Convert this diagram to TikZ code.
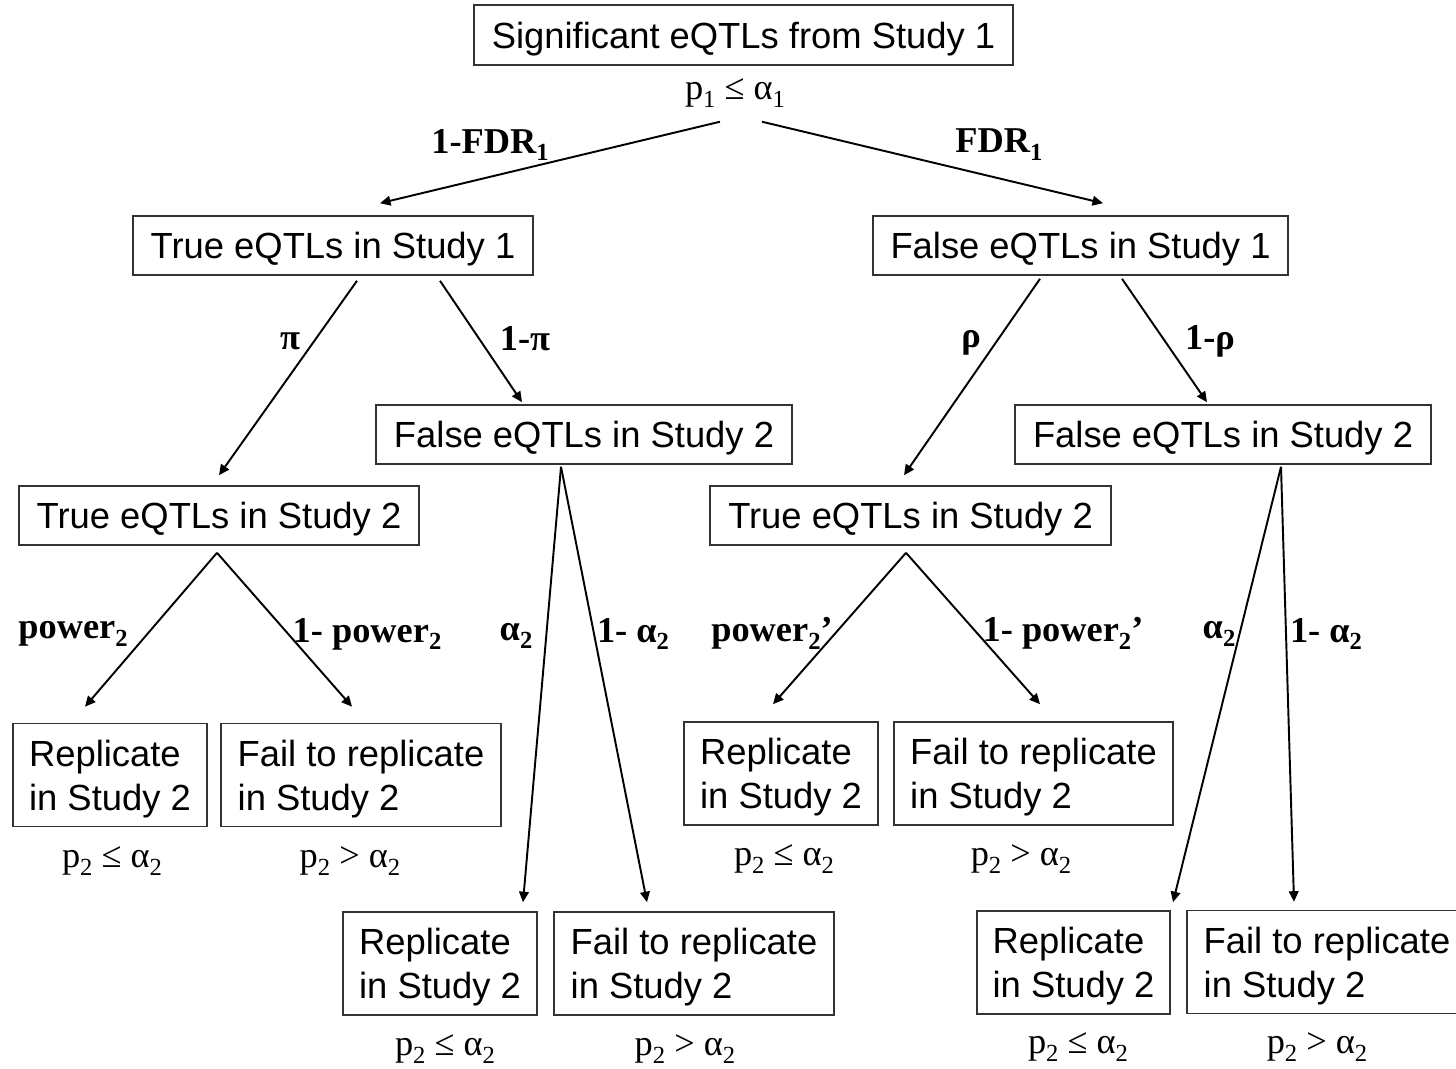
\documentclass[tikz,border=0pt]{standalone}
\usepackage{fontspec}
\setmainfont{Liberation Serif}
\setsansfont{Liberation Sans}
\usetikzlibrary{arrows.meta,calc}
\tikzset{
  box/.style={draw=black!80,line width=0.9pt,font=\sffamily\fontsize{20.7}{25}\selectfont,
              inner sep=0pt,align=center,text depth=0pt},
  leaf/.style={box,align=left},
  sz/.style 2 args={minimum width=#1*0.02cm,minimum height=#2*0.02cm},
  arr/.style={-{Triangle[length=6pt,width=5.5pt]},line width=1.1pt},
  lbl/.style={font=\rmfamily\bfseries\fontsize{20.7}{25}\selectfont,inner sep=0pt},
  cond/.style={font=\rmfamily\fontsize{20.7}{25}\selectfont,inner sep=0pt},
}
\newcommand\sub[1]{\raisebox{-4.5pt}{\fontsize{14}{14}\selectfont #1}}

\begin{document}
\begin{tikzpicture}[x=0.02cm,y=-0.02cm]
\useasboundingbox (0,0) rectangle (1456,1068);
% study 1
\node[box,sz={539}{60}] (root) at (743.5,35) {Significant eQTLs from Study 1};
\node[cond] (rootc) at (735,93) {p\sub{1} ≤ α\sub{1}};
\node[box,sz={400}{59}] (tOne) at (333,245.5) {True eQTLs in Study 1};
\node[box,sz={415}{59}] (fOne) at (1080.5,245.5) {False eQTLs in Study 1};
% study 2
\node[box,sz={400}{59}] (tTwoL) at (219,515.5) {True eQTLs in Study 2};
\node[box,sz={416}{59}] (fTwoL) at (584,434.5) {False eQTLs in Study 2};
\node[box,sz={401}{59}] (tTwoR) at (910.5,515.5) {True eQTLs in Study 2};
\node[box,sz={416}{59}] (fTwoR) at (1223,434.5) {False eQTLs in Study 2};
% outcomes
\foreach \nm/\x/\y/\w/\txt/\cx/\cy/\ct in {
  repA/110/775/194/{Replicate\\in Study 2}/112/861/{≤},
  failA/361/775/280/{Fail to replicate\\in Study 2}/350/861/{>},
  repB/440/963.5/194/{Replicate\\in Study 2}/445/1049/{≤},
  failB/694/963.5/280/{Fail to replicate\\in Study 2}/685/1049/{>},
  repC/781/773.5/194/{Replicate\\in Study 2}/784/859/{≤},
  failC/1033.5/773.5/279/{Fail to replicate\\in Study 2}/1021/859/{>},
  repD/1073.5/962.5/193/{Replicate\\in Study 2}/1078/1047/{≤},
  failD/1327/962/280/{Fail to replicate\\in Study 2}/1317/1047/{>}}{
  \node[leaf,sz={\w}{103}] (\nm) at (\x,\y) {\txt};
  \node[cond] (\nm c) at (\cx,\cy) {p\sub{2} \ct{} α\sub{2}};}
% branches
\draw[arr] ($(rootc.south)+(-15,14)$) -- ($(tOne.north)+(47,-12)$);
\draw[arr] ($(rootc.south)+(27,14)$) -- ($(fOne.north)+(22.5,-12)$);
\draw[arr] ($(tOne.south)+(24,5)$) -- ($(tTwoL.north)+(0,-10)$);
\draw[arr] ($(tOne.south)+(107,5)$) -- ($(fTwoL.north)+(-62,-2)$);
\draw[arr] ($(fOne.south)+(-40.5,3)$) -- ($(tTwoR.north)+(-6.5,-10)$);
\draw[arr] ($(fOne.south)+(41.5,3)$) -- ($(fTwoR.north)+(-16,-2)$);
\draw[arr] ($(tTwoL.south)+(-2,7)$) -- ($(repA.north)+(-25,-16)$);
\draw[arr] ($(tTwoL.south)+(-2,7)$) -- ($(failA.north)+(-9,-16)$);
\draw[arr] ($(fTwoL.south)+(-23,2)$) -- ($(repB.north)+(83,-9)$);
\draw[arr] ($(fTwoL.south)+(-23,2)$) -- ($(failB.north)+(-47,-9)$);
\draw[arr] ($(tTwoR.south)+(-4.5,7)$) -- ($(repC.north)+(-8,-17)$);
\draw[arr] ($(tTwoR.south)+(-4.5,7)$) -- ($(failC.north)+(6.5,-17)$);
\draw[arr] ($(fTwoR.south)+(58,2)$) -- ($(repD.north)+(99.5,-8)$);
\draw[arr] ($(fTwoR.south)+(58,2)$) -- ($(failD.north)+(-33,-8)$);
% branch labels
\node[lbl] (lFdrT) at (490,145) {1-FDR\sub{1}};
\node[lbl] (lFdrF) at (999,145) {FDR\sub{1}};
\node[lbl] (lPi) at (290,341) {π};
\node[lbl] (lPiC) at (525,339) {1-π};
\node[lbl] (lRho) at (971,343) {ρ};
\node[lbl] (lRhoC) at (1210,341) {1-ρ};
\node[lbl] (lPowA) at (73,634) {power\sub{2}};
\node[lbl] (lPowAC) at (367,634) {1- power\sub{2}};
\node[lbl] (lAlA) at (516,636) {α\sub{2}};
\node[lbl] (lAlAC) at (633,634) {1- α\sub{2}};
\node[lbl] (lPowB) at (772,633) {power\sub{2}’};
\node[lbl] (lPowBC) at (1063,633) {1- power\sub{2}’};
\node[lbl] (lAlB) at (1219,634) {α\sub{2}};
\node[lbl] (lAlBC) at (1326,634) {1- α\sub{2}};
\end{tikzpicture}
\end{document}
